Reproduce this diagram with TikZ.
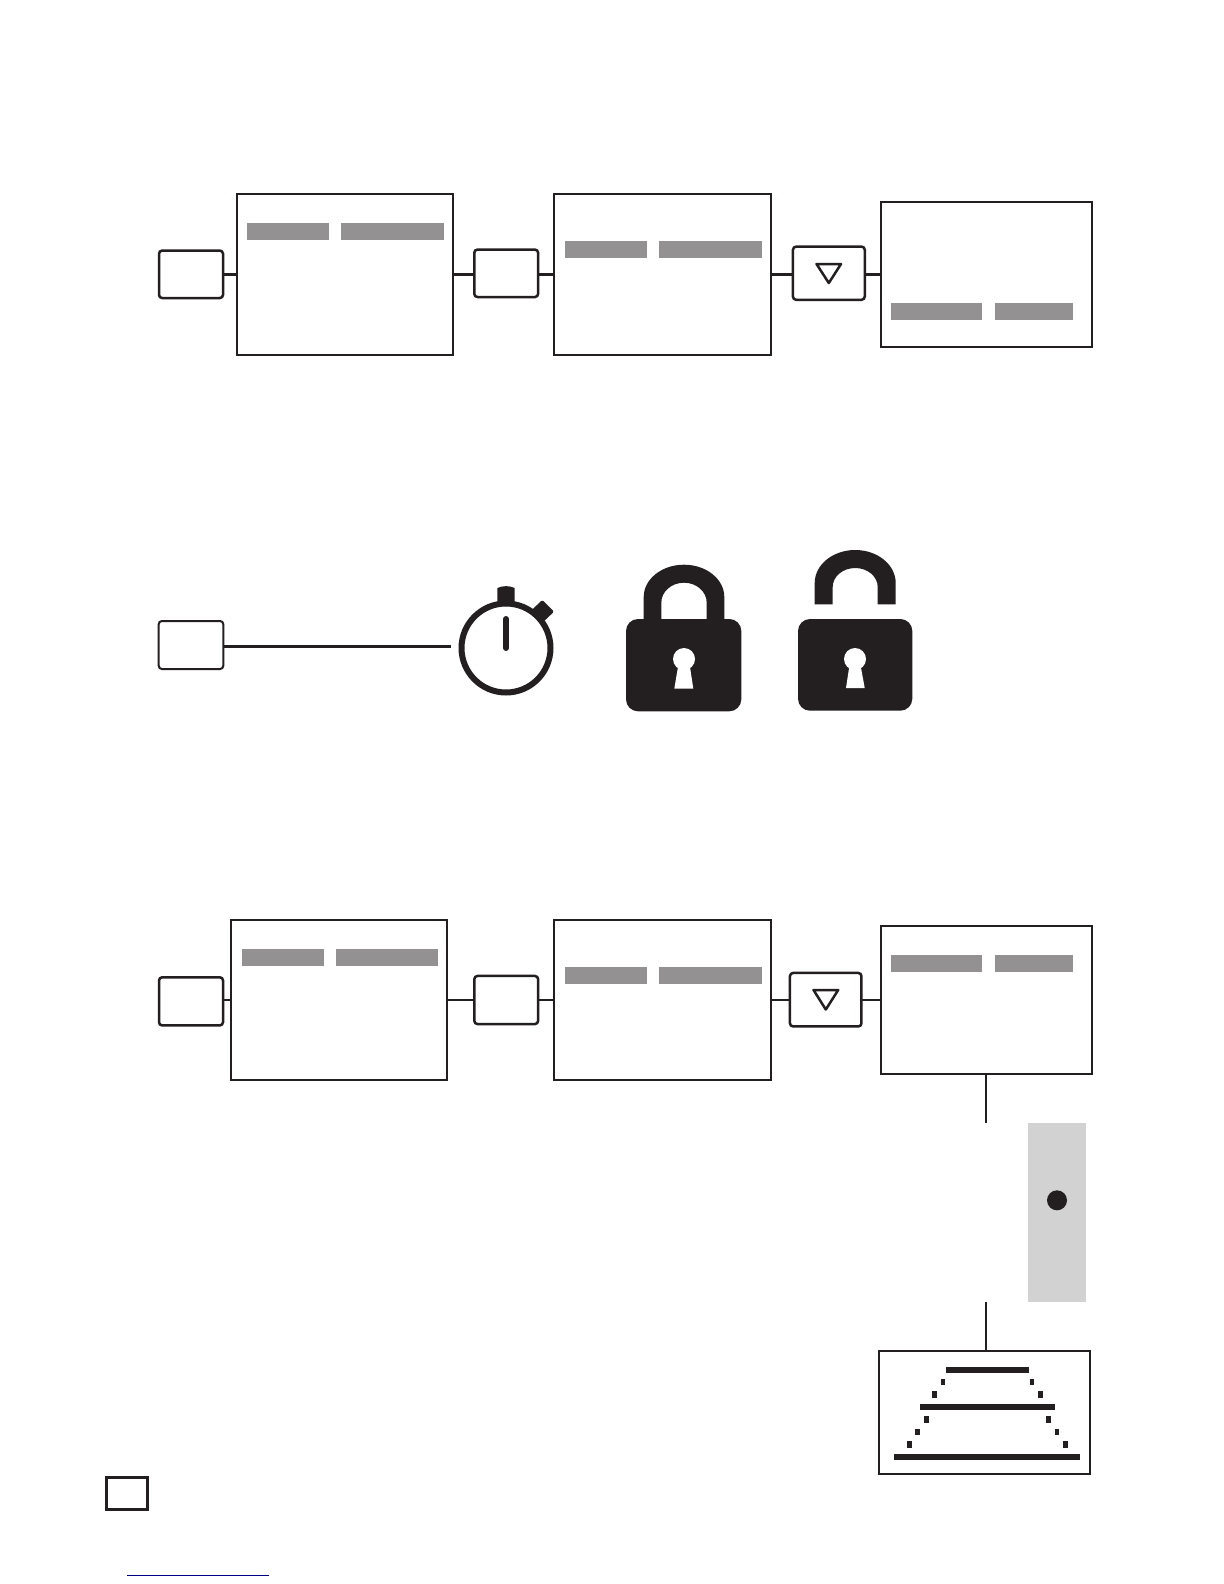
\documentclass[tikz,border=0pt]{standalone}
\definecolor{ink}{HTML}{231F20}
\definecolor{barcol}{HTML}{939192}
\definecolor{panelcol}{HTML}{D2D2D2}
\definecolor{linkcol}{HTML}{000080}
\tikzset{
  pxsize/.style 2 args={minimum width=#1*0.5pt,minimum height=#2*0.5pt},
  bigbox/.style={draw=ink,line width=1pt,inner sep=0pt,outer sep=0pt},
  keybox/.style={draw=ink,line width=1.25pt,rounded corners=1.6pt,inner sep=0pt,outer sep=0pt},
  thicklink/.style={draw=ink,line width=1.35pt},
  thinlink/.style={draw=ink,line width=0.95pt},
  bar/.style={fill=barcol},
  tri/.style={draw=ink,line width=1.25pt,line join=round},
  solidink/.style={fill=ink},
  stepline/.style={fill=ink},
}
\begin{document}
\begin{tikzpicture}[x=0.5pt,y=-0.5pt]
\useasboundingbox[fill=white] (0,0) rectangle (1224,1584);

% ---------- row 1
\node[keybox,pxsize={64}{47.5}] (a1) at (191,274.3) {};
\node[bigbox,pxsize={215.4}{160.4}] (m1) at (345,274.5) {};
\node[keybox,pxsize={63.8}{47.5}] (b1) at (506.2,273.3) {};
\node[bigbox,pxsize={216.4}{160.4}] (n1) at (662.5,274.5) {};
\node[keybox,pxsize={71.8}{53.2}] (c1) at (828.85,273.2) {};
\node[bigbox,pxsize={210.4}{144.4}] (p1) at (986.5,274.5) {};
\draw[thicklink] (a1.east |- m1.west) -- (m1.west);
\draw[thicklink] (m1.east) -- (b1.west |- m1.east);
\draw[thicklink] (b1.east |- n1.west) -- (n1.west);
\draw[thicklink] (n1.east) -- (c1.west |- n1.east);
\draw[thicklink] (c1.east |- p1.west) -- (p1.west);
\fill[bar] (247,223) rectangle (329,240);
\fill[bar] (341,223) rectangle (444,240);
\fill[bar] (565,241) rectangle (647,258);
\fill[bar] (659,241) rectangle (762,258);
\fill[bar] (891,303) rectangle (982,320);
\fill[bar] (995,303) rectangle (1073,320);
\draw[tri] (816.5,264) -- (841,264) -- (828.8,283) -- cycle;

% ---------- row 2
\node[keybox,line width=1pt,pxsize={64.6}{48}] (a2) at (191,645) {};
\coordinate (watchin) at (451,646.3);
\draw[thicklink] (a2.east |- watchin) -- (watchin);
% stopwatch
\draw[ink,line width=3pt] (506,648) circle[radius=22.25pt];
\fill[solidink] (497.3,606) -- (497.3,588) .. controls (503,585.5) and (509,585.5) .. (514.7,588) -- (514.7,606) -- cycle;
\fill[solidink,rounded corners=0.7pt] (529.8,611.8) -- (542.3,600) -- (554,611.7) -- (541.5,623.5) -- cycle;
\draw[ink,line width=3pt,line cap=round] (506,619) -- (506,648);
% closed lock
\fill[solidink,even odd rule] (643.7,625) -- (643.7,597)
   arc[start angle=180,end angle=0,x radius=20.15pt,y radius=16.15pt] -- (724.3,625) -- (706.7,625) -- (706.7,602.7)
   arc[start angle=0,end angle=180,x radius=11.35pt,y radius=10pt] -- (661.3,625) -- cycle;
\fill[solidink,rounded corners=6pt] (626,619) rectangle (741.3,711.3);
\fill[white] (684,659) circle[radius=5.5pt];
\fill[white] (678.3,665) -- (689.7,665) -- (693.3,688.7) -- (674.3,688.7) -- cycle;
% open lock
\fill[solidink,even odd rule] (814.7,604.3) -- (814.7,583)
   arc[start angle=180,end angle=0,x radius=20.25pt,y radius=16.5pt] -- (895.7,604.3) -- (877.7,604.3) -- (877.7,587)
   arc[start angle=0,end angle=180,x radius=11.25pt,y radius=9.5pt] -- (832.7,604.3) -- cycle;
\fill[solidink,rounded corners=6pt] (798,619) rectangle (912.3,710.7);
\fill[white] (855,659) circle[radius=5.5pt];
\fill[white] (849.5,665) -- (860.5,665) -- (864.7,688) -- (846,688) -- cycle;

% ---------- row 3
\node[keybox,pxsize={64}{48.2}] (a3) at (191,1001.35) {};
\node[bigbox,pxsize={215.4}{159.4}] (m3) at (339,1000) {};
\node[keybox,pxsize={63.8}{48.1}] (b3) at (506.2,1000) {};
\node[bigbox,pxsize={216.4}{159.4}] (n3) at (662.5,1000) {};
\node[keybox,pxsize={71.5}{53.5}] (c3) at (825.7,999.7) {};
\node[bigbox,pxsize={210.7}{147.7}] (p3) at (986.65,999.85) {};
\draw[thinlink] (a3.east |- m3.west) -- (m3.west);
\draw[thinlink] (m3.east) -- (b3.west |- m3.east);
\draw[thinlink] (b3.east |- n3.west) -- (n3.west);
\draw[thinlink] (n3.east) -- (c3.west |- n3.east);
\draw[thinlink] (c3.east |- p3.west) -- (p3.west);
\fill[bar] (242,949) rectangle (324,966);
\fill[bar] (336,949) rectangle (438,966);
\fill[bar] (565,966.7) rectangle (647,983.7);
\fill[bar] (659,966.7) rectangle (762,983.7);
\fill[bar] (891,955) rectangle (982,972);
\fill[bar] (995,955) rectangle (1073,972);
\draw[tri] (813.5,990) -- (838.2,990) -- (825.8,1009.5) -- cycle;

% ---------- grey panel and lower box
\coordinate (dropend) at (986,1123);
\coordinate (risestart) at (986,1302);
\draw[thinlink] (p3.south -| dropend) -- (dropend);
\node[fill=panelcol,inner sep=0pt,outer sep=0pt,pxsize={58}{178.7}] (panel) at (1057,1212.35) {};
\fill[ink] (1057,1200.3) circle[radius=5pt];
\node[bigbox,pxsize={210.7}{122.7}] (t1) at (984.35,1412.35) {};
\draw[thinlink] (risestart) -- (risestart |- t1.north);
% ladder bars
\fill[stepline] (946,1367) rectangle (1029,1373);
\fill[stepline] (920,1404) rectangle (1055,1410);
\fill[stepline] (894,1454) rectangle (1080,1460);
% ladder ticks
\fill[stepline] (941,1379) rectangle (945,1385);
\fill[stepline] (932,1391) rectangle (937,1398);
\fill[stepline] (924,1416) rectangle (929,1423);
\fill[stepline] (915,1429) rectangle (920,1435);
\fill[stepline] (907,1441) rectangle (912,1448);
\fill[stepline] (1030,1379) rectangle (1034,1385);
\fill[stepline] (1038,1391) rectangle (1043,1398);
\fill[stepline] (1046,1416) rectangle (1051,1423);
\fill[stepline] (1055,1429) rectangle (1059,1435);
\fill[stepline] (1063,1441) rectangle (1068,1448);

% ---------- footer
\node[draw=ink,line width=1.35pt,inner sep=0pt,outer sep=0pt,pxsize={41.3}{32.3}] (corner) at (127,1493.5) {};
\coordinate (ruleL) at (127,1575.3);
\coordinate (ruleR) at (269,1575.3);
\draw[linkcol,line width=0.55pt] (ruleL) -- (ruleR);
\end{tikzpicture}
\end{document}
